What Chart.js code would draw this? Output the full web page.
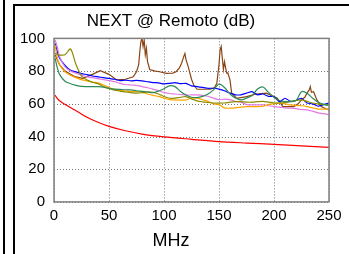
<!DOCTYPE html>
<html>
<head>
<meta charset="utf-8">
<script src="https://cdn.jsdelivr.net/npm/chart.js@4.4.1/dist/chart.umd.min.js"></script>
<style>
  html, body { margin: 0; padding: 0; background: #fff; }
  #wrap { position: relative; width: 349px; height: 254px; overflow: hidden; }
  .rule { position: absolute; background: #000; }
  #chart-box { position: absolute; left: 13px; top: 0; width: 336px; height: 254px; }
</style>
</head>
<body>
<div id="wrap">
  <div class="rule" style="left:3px;top:0;width:2px;height:254px"></div>
  <div class="rule" style="left:13px;top:4px;width:2px;height:250px"></div>
  <div class="rule" style="left:13px;top:4px;width:336px;height:2px"></div>
  <div id="chart-box"><canvas id="next-chart" width="336" height="254"></canvas></div>
</div>
<script>
// frequency grid (MHz) shared by the smoother pairs
const freq = [1, 3, 5, 10, 15, 20, 25, 30, 35, 40, 45, 50, 55, 60, 65, 70, 75, 80, 85, 90,
  95, 100, 105, 110, 115, 120, 125, 130, 135, 140, 145, 150, 155, 160, 165, 170, 175, 180,
  185, 190, 195, 200, 205, 210, 215, 220, 225, 230, 235, 240, 245, 250];

const bluePair = [97, 92, 88, 83.5, 80.5, 79.5, 78.5, 77.8, 77, 76.5, 76, 75.5, 75, 74.2, 74.5,
  74, 74.3, 74, 73.5, 73, 72.8, 72.2, 72.5, 73, 72.3, 72.5, 71, 70.5, 70, 69.5, 69.5, 69, 68,
  66.5, 65.5, 65.5, 66.5, 67.4, 65.5, 66, 64.5, 64.4, 61.3, 63.4, 61.5, 62, 63.4, 60.5, 60,
  58.5, 59.5, 60.4];

const greenPair = [88, 82, 78, 73.8, 72.3, 71.3, 70.6, 70.5, 70.5, 70.5, 70.2, 69.5, 69, 68.8,
  68.6, 68.5, 68, 67.6, 67.2, 66.8, 67.8, 69.2, 71, 70.5, 67.5, 65.4, 64, 63.8, 64.5, 66, 68.5,
  72, 70, 66, 63.5, 62.4, 63.5, 65, 69, 70.3, 67, 64, 62, 61.3, 61.3, 62, 67.4, 66.5, 63.5, 61,
  59.8, 59];

const olivePair = [91, 90, 89.8, 90, 93.5, 84, 77, 74.5, 73.2, 72.3, 70.5, 69.3, 68.4, 67.8,
  67.2, 66.8, 66.5, 66.8, 67.3, 67, 66, 64.5, 63.4, 63.5, 64, 64.4, 63, 61.8, 61.2, 60.8, 60.5,
  60.4, 60.5, 61, 61.3, 61.3, 61, 61, 61.3, 61.5, 61, 60.5, 60.5, 60.7, 61.5, 62, 62.4, 61.5,
  60.5, 60, 59.5, 59.3];

const orangePair = [96, 88, 84, 79.5, 77.5, 76, 74.8, 74, 73.3, 72.8, 71.5, 70, 68.8, 68.2,
  67.8, 67.5, 67.4, 67, 66, 65.2, 64.5, 63.5, 62.6, 62.4, 62.3, 62.4, 63.5, 63.5, 62.5, 61.5,
  60, 59.5, 57.5, 57.3, 57.5, 58, 58.3, 58.3, 58.3, 58.5, 59.5, 60, 60.4, 60, 59.3, 59, 58.8,
  58.3, 57.5, 56.8, 56.7, 56.7];

const violetPair = [99, 95, 89, 82.5, 80, 78.7, 77.5, 76.5, 76, 75.4, 74.8, 74.2, 73.6, 72.5,
  71.8, 71.5, 71.3, 70.5, 69.8, 69, 68, 67, 66.3, 66, 65.7, 65.4, 65.4, 65.4, 65.2, 64.6, 63.5,
  62.5, 62.8, 62.5, 61.5, 61, 59.5, 59.3, 59.3, 59.3, 58.8, 58.3, 58, 57.5, 57.3, 57, 56.5,
  56.3, 55.5, 54.5, 54, 53.3];

// brown pair has sharp resonances, read on a finer grid
const brownFreq = [1, 5, 10, 19, 26, 35, 42, 50, 57, 65, 72, 75, 77, 78, 79, 80, 81, 82, 83, 84,
  85, 87, 92, 96, 102, 108, 111, 114, 116, 118, 119, 120, 122, 125, 127, 130, 136, 142, 146,
  148, 150, 151, 152, 153, 154, 155, 156, 157, 158, 160, 161.5, 166, 175, 184, 193, 198, 203,
  208, 213, 218, 222, 225, 228, 230, 232, 233, 234, 236, 239, 243, 247, 250];
const brownPair = [90, 84, 80, 76.6, 75.6, 78, 80.3, 78, 74.6, 75, 76.5, 79.6, 84, 92, 98, 100,
  95, 99, 90, 94, 86, 81, 80, 79.6, 78.6, 78.8, 79.6, 82, 84.8, 89, 90.8, 87, 82.7, 75, 71.5,
  68.9, 68.9, 68.9, 70, 72.6, 84, 92.9, 95, 88, 81, 85.7, 82, 78.7, 79, 74.6, 66.5, 63.4, 64.4,
  66, 66.5, 65, 63.4, 58.3, 58.3, 58.3, 60, 62.4, 64, 66.5, 68.5, 70.5, 67, 67.4, 62.4, 58.3,
  57, 56.3];

// limit line
const limitFreq = [1, 2, 4, 7, 11, 16, 22, 30, 40, 50, 65, 80, 100, 125, 150, 175, 200, 225, 250];
const limitLine = [65.3, 64.2, 62.5, 61, 59.3, 57.3, 55, 51.8, 48.7, 46.2, 43.5, 41.5, 39.8,
  38.3, 36.9, 36, 35.2, 34.3, 33.3];

const xTicks = [0, 50, 100, 150, 200, 250];
const yTicks = [0, 20, 40, 60, 80, 100];

const toPoints = (xs, ys) => xs.map((x, i) => ({ x: x, y: ys[i] }));

const line = (data, color, tension) => ({
    data: data,
    borderColor: color,
    borderWidth: 1.2,
    pointRadius: 0,
    fill: false,
    tension: tension
});

// dotted grid at the tick values + grey box around the plot area
const plotFrame = {
    id: 'plotFrame',
    beforeDatasetsDraw(chart) {
        const { ctx, chartArea: a, scales } = chart;
        ctx.save();
        ctx.strokeStyle = '#777777';
        ctx.lineWidth = 1;
        ctx.setLineDash([1, 2]);
        ctx.beginPath();
        xTicks.forEach(v => {
            const px = Math.round(scales.x.getPixelForValue(v)) + 0.5;
            ctx.moveTo(px, a.top);
            ctx.lineTo(px, a.bottom);
        });
        yTicks.forEach(v => {
            const py = Math.round(scales.y.getPixelForValue(v)) + 0.5;
            ctx.moveTo(a.left, py);
            ctx.lineTo(a.right, py);
        });
        ctx.stroke();
        ctx.restore();
    },
    afterDatasetsDraw(chart) {
        const { ctx, chartArea: a } = chart;
        ctx.save();
        ctx.strokeStyle = '#7f7f7f';
        ctx.lineWidth = 1.5;
        ctx.strokeRect(a.left, a.top, a.right - a.left, a.bottom - a.top);
        ctx.restore();
    }
};

const font = 'Arial, "Liberation Sans", sans-serif';

new Chart(document.getElementById('next-chart'), {
    type: 'line',
    data: {
        datasets: [
            line(toPoints(limitFreq, limitLine), '#ff0000', 0.3),
            line(toPoints(freq, greenPair), '#2e8b57', 0.3),
            line(toPoints(freq, olivePair), '#8c8c00', 0.3),
            line(toPoints(freq, orangePair), '#ffa500', 0.3),
            line(toPoints(freq, violetPair), '#e07ae0', 0.3),
            line(toPoints(freq, bluePair), '#0000ff', 0.2),
            line(toPoints(brownFreq, brownPair), '#8b4513', 0)
        ]
    },
    options: {
        responsive: false,
        animation: false,
        layout: { padding: { left: 0, right: 20, top: 0, bottom: 0 } },
        plugins: {
            legend: { display: false },
            tooltip: { enabled: false },
            title: {
                display: true,
                text: 'NEXT @ Remoto (dB)',
                color: '#000',
                font: { family: font, size: 17, weight: 'normal' },
                padding: { top: 11, bottom: 7 }
            },
            subtitle: {
                display: true,
                position: 'bottom',
                text: 'MHz',
                color: '#000',
                font: { family: font, size: 18, weight: 'normal' },
                padding: { top: 0, bottom: 2.5 }
            }
        },
        scales: {
            x: {
                type: 'linear',
                min: 0,
                max: 250,
                afterBuildTicks: s => { s.ticks = xTicks.map(v => ({ value: v })); },
                grid: { display: false, drawTicks: false },
                border: { display: false },
                ticks: { color: '#000', padding: 5, maxRotation: 0, font: { family: font, size: 15 } }
            },
            y: {
                min: 0,
                max: 100,
                afterBuildTicks: s => { s.ticks = yTicks.map(v => ({ value: v })); },
                afterFit: s => { s.width = 41; },
                grid: { display: false, drawTicks: false },
                border: { display: false },
                ticks: { color: '#000', padding: 9, font: { family: font, size: 15 } }
            }
        }
    },
    plugins: [plotFrame]
});
</script>
</body>
</html>
